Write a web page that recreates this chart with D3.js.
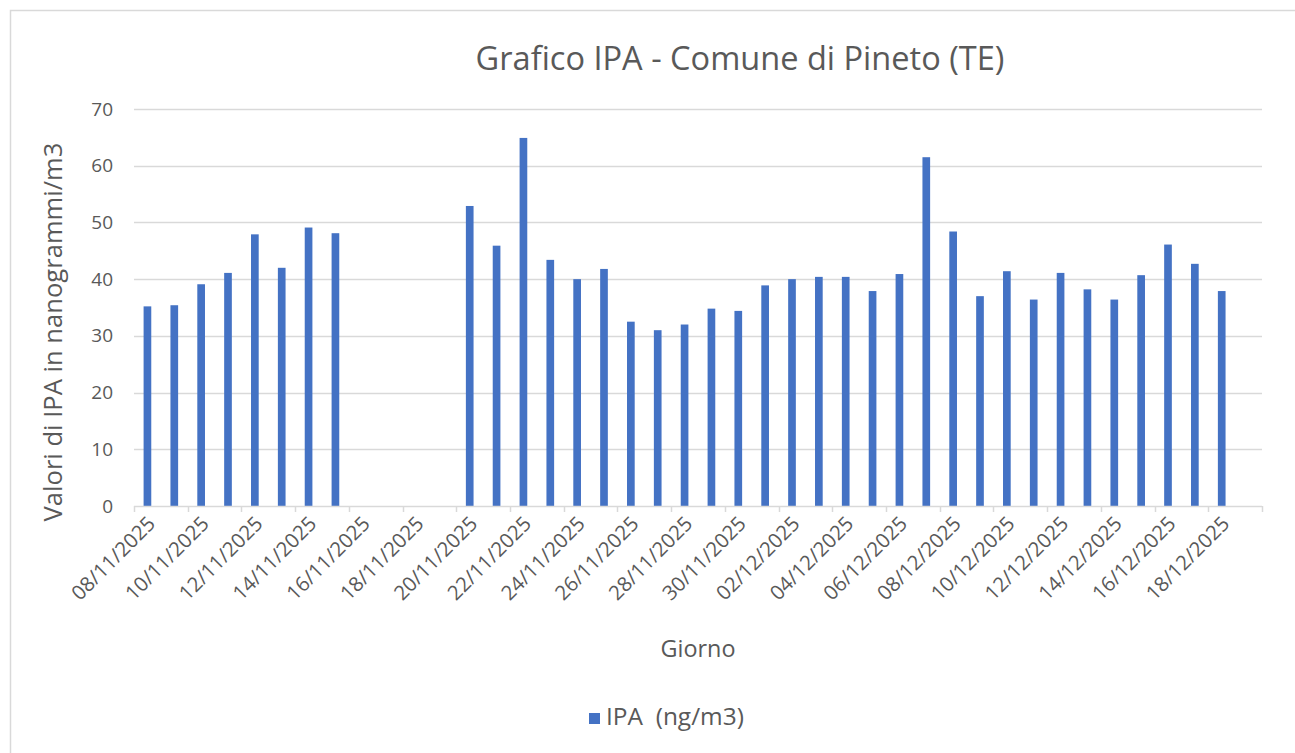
<!DOCTYPE html>
<meta charset="utf-8">
<style>
body { margin: 0; background: #fff; }
text { font-family: "Open Sans", "Noto Sans", sans-serif; fill: #595959; }
.grid line { stroke: #d9d9d9; stroke-width: 1.3px; }
</style>
<body>
<script src="https://d3js.org/d3.v7.min.js"></script>
<script>

// dates on the category axis (19/12 has no reading)
var days = [
  "08/11/2025","09/11/2025","10/11/2025","11/11/2025","12/11/2025","13/11/2025","14/11/2025",
  "15/11/2025","16/11/2025","17/11/2025","18/11/2025","19/11/2025","20/11/2025","21/11/2025",
  "22/11/2025","23/11/2025","24/11/2025","25/11/2025","26/11/2025","27/11/2025","28/11/2025",
  "29/11/2025","30/11/2025","01/12/2025","02/12/2025","03/12/2025","04/12/2025","05/12/2025",
  "06/12/2025","07/12/2025","08/12/2025","09/12/2025","10/12/2025","11/12/2025","12/12/2025",
  "13/12/2025","14/12/2025","15/12/2025","16/12/2025","17/12/2025","18/12/2025","19/12/2025"
];

// IPA values, ng/m3 (null = no data)
var ipa = [
  35.2, 35.4, 39.1, 41.1, 47.9, 42.0, 49.1, 48.1, null, null, null, null, 52.9, 45.9,
  64.9, 43.4, 40.0, 41.8, 32.5, 31.0, 32.0, 34.8, 34.4, 38.9, 40.0, 40.4, 40.4, 37.9,
  40.9, 61.5, 48.4, 37.0, 41.4, 36.4, 41.1, 38.2, 36.4, 40.7, 46.1, 42.7, 37.9, null
];

var yTicks = [0, 10, 20, 30, 40, 50, 60, 70];

var W = 1295, H = 753;
var margin = {top: 109, right: 33, bottom: 247, left: 134};
var width = W - margin.left - margin.right,
    height = H - margin.top - margin.bottom;

// scale a text's font so it takes roughly the given width
function fit(sel, target) {
  sel.each(function() {
    var s = 20;
    d3.select(this).style("font-size", s + "px");
    var w = this.getComputedTextLength();
    d3.select(this).style("font-size", (s * target / w).toFixed(2) + "px");
  });
}

var svg = d3.select("body").append("svg")
    .attr("width", W)
    .attr("height", H);

// chart area border (only left/top visible in the crop)
svg.append("path")
    .attr("d", "M10.5," + H + "V10.5H" + W)
    .attr("fill", "none")
    .attr("stroke", "#d9d9d9")
    .attr("stroke-width", 1.5);

var g = svg.append("g")
    .attr("transform", "translate(" + margin.left + "," + margin.top + ")");

var x = d3.scaleBand().domain(days).range([0, width]).paddingInner(0.714).paddingOuter(0.357);
var y = d3.scaleLinear().domain([0, 70]).range([height, 0]);

// gridlines
g.append("g").attr("class", "grid")
  .selectAll("line").data(yTicks.slice(1)).enter().append("line")
    .attr("x1", 0).attr("x2", width)
    .attr("y1", function(d) { return Math.round(y(d)) + 0.5; })
    .attr("y2", function(d) { return Math.round(y(d)) + 0.5; });

// bars
g.selectAll(".bar")
    .data(days.map(function(d, i) { return {day: d, v: ipa[i]}; }).filter(function(d) { return d.v != null; }))
  .enter().append("rect")
    .attr("class", "bar")
    .attr("x", function(d) { return x(d.day); })
    .attr("width", x.bandwidth())
    .attr("y", function(d) { return y(d.v); })
    .attr("height", function(d) { return height - y(d.v); })
    .attr("fill", "#4472c4");

// y axis labels
var yAxis = g.append("g")
    .call(d3.axisLeft(y).tickValues(yTicks).tickSize(0).tickPadding(21));
yAxis.select(".domain").remove();
yAxis.selectAll("text").attr("fill", "#595959").style("font-size", "19px");

// x axis line + tick marks between categories
var step = x.step();
g.append("line")
    .attr("x1", 0).attr("x2", width)
    .attr("y1", height + 0.5).attr("y2", height + 0.5)
    .attr("stroke", "#d9d9d9").attr("stroke-width", 1.5);

var tickPos = d3.range(0, days.length + 1, 2);
g.selectAll(".tk").data(tickPos).enter().append("line")
    .attr("x1", function(i) { return Math.round(i * step) + 0.5; })
    .attr("x2", function(i) { return Math.round(i * step) + 0.5; })
    .attr("y1", height).attr("y2", height + 6)
    .attr("stroke", "#d9d9d9").attr("stroke-width", 1.5);

// x labels every 2 days, rotated
var labelDays = days.filter(function(d, i) { return i % 2 === 0; });
g.selectAll(".xl").data(labelDays).enter().append("text")
    .attr("class", "xl")
    .attr("transform", function(d) {
      return "translate(" + (x(d) + x.bandwidth() / 2 + 4) + "," + (height + 14) + ") rotate(-45)";
    })
    .attr("text-anchor", "end")
    .attr("dy", "0.35em")
    .text(function(d) { return d; });
fit(g.selectAll(".xl"), 108);

// titles
svg.append("text")
    .attr("x", 740).attr("y", 70)
    .attr("text-anchor", "middle")
    .text("Grafico IPA - Comune di Pineto (TE)")
    .call(fit, 529);

svg.append("text")
    .attr("transform", "translate(62," + 332 + ") rotate(-90)")
    .attr("text-anchor", "middle")
    .text("Valori di IPA in nanogrammi/m3")
    .call(fit, 379);

svg.append("text")
    .attr("x", margin.left + width / 2).attr("y", 657)
    .attr("text-anchor", "middle")
    .text("Giorno")
    .call(fit, 75);

// legend
svg.append("rect")
    .attr("x", 589).attr("y", 713)
    .attr("width", 11).attr("height", 11)
    .attr("fill", "#4472c4");
svg.append("text")
    .attr("x", 606).attr("y", 725)
    .style("white-space", "pre")
    .text("IPA  (ng/m3)")
    .call(fit, 138);

</script>
</body>
